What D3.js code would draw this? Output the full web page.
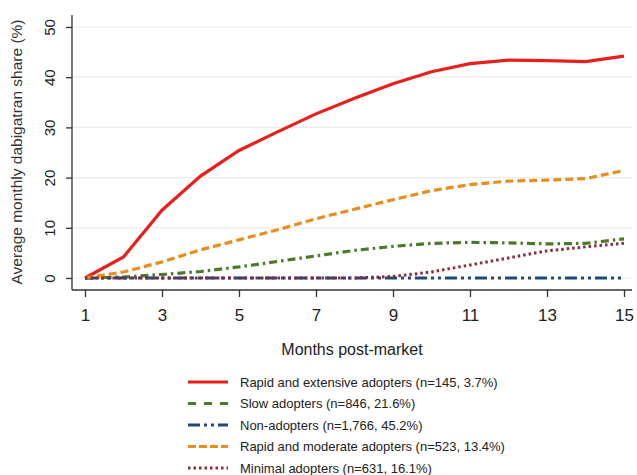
<!DOCTYPE html>
<html><head><meta charset="utf-8">
<script src="https://cdn.jsdelivr.net/npm/d3@7"></script>
<style>body{margin:0;background:#fff}svg{display:block}</style>
</head><body>
<svg id="c" width="637" height="475"></svg>
<script>
const months = [1,2,3,4,5,6,7,8,9,10,11,12,13,14,15];
const rapidExtensive = [0,4.2,13.5,20.3,25.4,29.1,32.7,35.8,38.7,41.1,42.7,43.4,43.3,43.1,44.2];
const slow =           [0,0.2,0.7,1.3,2.2,3.3,4.4,5.5,6.3,6.9,7.1,7.0,6.8,6.9,7.8];
const nonAdopters =    [0,0,0,0,0,0,0,0,0,0,0,0,0,0,0];
const rapidModerate =  [0,1.2,3.2,5.6,7.6,9.6,11.8,13.7,15.6,17.4,18.6,19.3,19.5,19.8,21.4];
const minimal =        [0,0,0,0,0,0,0,0,0.3,1.2,2.6,4.0,5.4,6.2,6.9];
const seriesNames = [
  "Rapid and extensive adopters (n=145, 3.7%)",
  "Slow adopters (n=846, 21.6%)",
  "Non-adopters (n=1,766, 45.2%)",
  "Rapid and moderate adopters (n=523, 13.4%)",
  "Minimal adopters (n=631, 16.1%)"
];
const xTicks = [1,3,5,7,9,11,13,15];
const yTicks = [0,10,20,30,40,50];

const styles = [
  {color:"#e8201c", dash:null, w:3.2},
  {color:"#4b7a2b", dash:"8,4,2.5,4", w:3.2},
  {color:"#1d4a78", dash:"12,4,3,4,3,4", w:3.2},
  {color:"#e88d1e", dash:"8,4", w:3.2},
  {color:"#8c2a3c", dash:"2.5,3", w:3}
];
const legendDash = [null, "8,8", "12,4,3,4,3,4", "8,3", "2.5,3"];
const data = [rapidExtensive, slow, nonAdopters, rapidModerate, minimal];

const svg = d3.select("#c");
const x = d3.scaleLinear().domain([1,15]).range([85,624]);
const y = d3.scaleLinear().domain([0,50]).range([278,27]);
const font = "Liberation Sans, Arial, sans-serif";

// gridlines
svg.append("g").selectAll("line").data(yTicks).join("line")
  .attr("x1",72).attr("x2",632).attr("y1",d=>y(d)).attr("y2",d=>y(d))
  .attr("stroke","#ebebeb").attr("stroke-width",1.2);

// y axis
const ya = svg.append("g").attr("transform","translate(72,0)")
  .call(d3.axisLeft(y).tickValues(yTicks).tickSize(6).tickPadding(14));
ya.select(".domain").attr("d","M0,15V290").attr("stroke","#333").attr("stroke-width",1.3);
ya.selectAll(".tick line").attr("stroke","#333").attr("stroke-width",1.3);
ya.selectAll(".tick text").attr("transform","rotate(-90)").attr("x",0).attr("y",-22)
  .attr("dy","0.35em").attr("text-anchor","middle")
  .style("font-family",font).style("font-size","15px").attr("fill","#222");

// x axis
const xa = svg.append("g").attr("transform","translate(0,290)")
  .call(d3.axisBottom(x).tickValues(xTicks).tickSize(7).tickPadding(12));
xa.select(".domain").attr("d","M72,0H632").attr("stroke","#333").attr("stroke-width",1.3);
xa.selectAll(".tick line").attr("stroke","#333").attr("stroke-width",1.3);
xa.selectAll(".tick text").style("font-family",font).style("font-size","17px").attr("fill","#222");

// axis titles
svg.append("text").attr("x",352).attr("y",355).attr("text-anchor","middle")
  .style("font-family",font).style("font-size","16px").attr("fill","#222").text("Months post-market");
svg.append("text").attr("transform","translate(22,152) rotate(-90)").attr("text-anchor","middle")
  .style("font-family",font).style("font-size","15.5px").attr("fill","#333").text("Average monthly dabigatran share (%)");

// lines
const line = d3.line().x((d,i)=>x(months[i])).y(d=>y(d));
data.forEach((s,i)=>{
  svg.append("path").datum(s).attr("d",line).attr("fill","none")
    .attr("stroke",styles[i].color).attr("stroke-width",styles[i].w)
    .attr("stroke-dasharray",styles[i].dash);
});

// legend
const lg = svg.append("g");
seriesNames.forEach((n,i)=>{
  const yy = 382 + i*21.5;
  lg.append("line").attr("x1",188).attr("x2",228).attr("y1",yy).attr("y2",yy)
    .attr("stroke",styles[i].color).attr("stroke-width",styles[i].w)
    .attr("stroke-dasharray",legendDash[i]);
  lg.append("text").attr("x",240).attr("y",yy).attr("dy","0.35em")
    .style("font-family",font).style("font-size","13px").attr("fill","#222").text(n);
});
</script>
</body></html>
